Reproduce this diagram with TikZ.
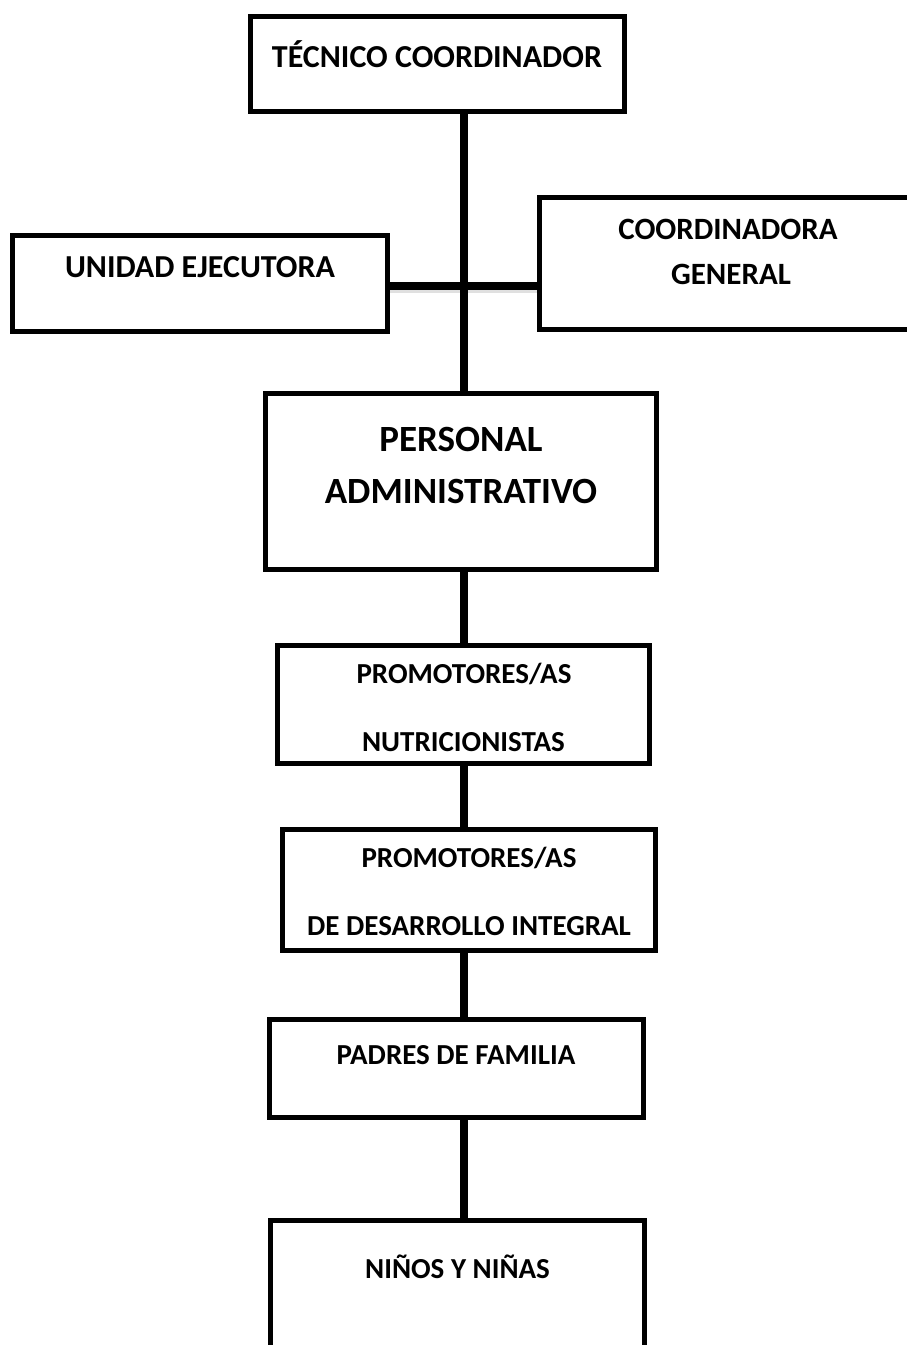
\documentclass[tikz,border=0pt]{standalone}
\usepackage{fontspec}
\setmainfont{Carlito}
\begin{document}
\begin{tikzpicture}[x=1pt,y=-1pt,
  box/.style={draw=black,line width=5pt,rectangle,inner sep=0pt,fill=white},
  lbl/.style={anchor=base,inner sep=0pt,font=\bfseries\fontsize{#1}{#1}\selectfont},
  lbl/.default=29,
  conn/.style={draw=black,line width=8pt},
  shadow/.style={draw=black!12,line width=3pt}]
\useasboundingbox (0,0) rectangle (907,1345);
\clip (0,0) rectangle (907,1345);
\fill[white] (0,0) rectangle (907,1345);
\coordinate (axis) at (464,0);
\coordinate (hy) at (0,286);
\coordinate (hys) at (0,291);
% boxes
\node[box,minimum width=374pt,minimum height=95pt] (tc) at (437.5,63.5) {};
\node[box,minimum width=375pt,minimum height=96pt] (ue) at (200,283.5) {};
\node[box,minimum width=390pt,minimum height=132pt] (cg) at (734.75,263.5) {};
\node[box,minimum width=391pt,minimum height=176pt] (pa) at (461,481.5) {};
\node[box,minimum width=372pt,minimum height=118pt] (nu) at (463.5,704.5) {};
\node[box,minimum width=373pt,minimum height=121pt] (de) at (469,890) {};
\node[box,minimum width=374pt,minimum height=98pt] (pf) at (456.5,1068.5) {};
\node[box,minimum width=374pt,minimum height=140pt] (nn) at (457.5,1290) {};
% connectors
\draw[shadow] (ue.east |- hys) -- (cg.west |- hys);
\draw[conn] (tc.south -| axis) -- (pa.north -| axis);
\draw[conn] (ue.east |- hy) -- (cg.west |- hy);
\draw[conn] (pa.south -| axis) -- (nu.north -| axis);
\draw[conn] (nu.south -| axis) -- (de.north -| axis);
\draw[conn] (de.south -| axis) -- (pf.north -| axis);
\draw[conn] (pf.south -| axis) -- (nn.north -| axis);
% labels
\node[lbl=32] (tct) at (437,67) {TÉCNICO COORDINADOR};
\node[lbl=32] (uet) at (200,277) {UNIDAD EJECUTORA};
\node[lbl=31] (cgt1) at (728,239) {COORDINADORA};
\node[lbl=31] (cgt2) at (731,284) {GENERAL};
\node[lbl=37] (pat1) at (461,451) {PERSONAL};
\node[lbl=37] (pat2) at (461,503) {ADMINISTRATIVO};
\node[lbl] (nut1) at (464,683) {PROMOTORES/AS};
\node[lbl] (nut2) at (463.5,751) {NUTRICIONISTAS};
\node[lbl] (det1) at (469,867) {PROMOTORES/AS};
\node[lbl] (det2) at (469,935) {DE DESARROLLO INTEGRAL};
\node[lbl] (pft) at (456,1064) {PADRES DE FAMILIA};
\node[lbl] (nnt) at (457.5,1278) {NIÑOS Y NIÑAS};
\end{tikzpicture}
\end{document}
